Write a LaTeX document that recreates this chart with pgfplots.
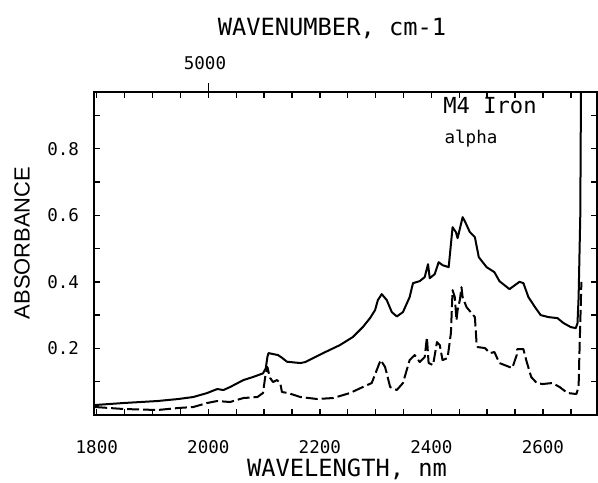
\documentclass[border=0pt]{standalone}
\usepackage{pgfplots}
\pgfplotsset{compat=1.18}
\usepackage{fontspec}
\setmainfont{DejaVu Sans Mono}
\newfontfamily\absfont{Liberation Sans}

\pgfplotstableread{
x y
1797 0.030
1848 0.036
1909 0.042
1946 0.048
1973 0.054
1998 0.066
2016 0.078
2027 0.075
2039 0.084
2063 0.105
2080 0.114
2098 0.125
2103 0.140
2106 0.175
2108 0.186
2116 0.183
2125 0.180
2132 0.172
2141 0.160
2165 0.156
2174 0.159
2206 0.186
2236 0.210
2259 0.234
2277 0.264
2290 0.291
2299 0.315
2304 0.345
2311 0.363
2320 0.345
2329 0.309
2338 0.296
2349 0.309
2361 0.354
2367 0.396
2379 0.402
2388 0.414
2394 0.453
2397 0.411
2406 0.423
2413 0.459
2420 0.450
2431 0.444
2438 0.564
2444 0.549
2447 0.531
2456 0.594
2460 0.582
2469 0.549
2478 0.534
2485 0.474
2499 0.444
2513 0.429
2522 0.402
2540 0.378
2558 0.400
2565 0.396
2574 0.354
2587 0.321
2596 0.300
2610 0.294
2626 0.291
2637 0.276
2650 0.264
2659 0.261
2662 0.276
2664 0.354
2667 0.600
2669 1.200
}\solid

\pgfplotstableread{
x y
1797 0.024
1848 0.018
1909 0.015
1946 0.021
1973 0.024
1998 0.036
2016 0.042
2039 0.039
2063 0.051
2088 0.054
2098 0.066
2102 0.114
2106 0.144
2108 0.129
2111 0.111
2116 0.099
2123 0.105
2129 0.096
2132 0.069
2143 0.066
2165 0.054
2195 0.048
2224 0.051
2254 0.066
2277 0.084
2293 0.096
2302 0.135
2309 0.165
2317 0.144
2326 0.084
2338 0.075
2349 0.096
2361 0.165
2370 0.180
2379 0.159
2388 0.174
2392 0.234
2395 0.156
2403 0.150
2410 0.219
2415 0.210
2420 0.165
2429 0.171
2435 0.246
2438 0.375
2442 0.354
2445 0.285
2447 0.315
2451 0.345
2454 0.384
2456 0.354
2463 0.324
2472 0.306
2478 0.294
2481 0.216
2483 0.204
2496 0.201
2505 0.186
2513 0.189
2522 0.156
2545 0.141
2553 0.180
2554 0.198
2565 0.198
2570 0.165
2579 0.114
2589 0.096
2599 0.093
2617 0.096
2630 0.084
2644 0.066
2660 0.063
2664 0.084
2665 0.156
2669 0.400
}\dashed

\begin{document}
\begin{tikzpicture}
\useasboundingbox (-47bp,-34bp) rectangle (252bp,207.5bp);
\begin{axis}[
  at={(0,0)}, anchor=south west,
  scale only axis, width=251.5bp, height=161.5bp,
  xmin=1795, xmax=2697, ymin=0, ymax=0.97,
  axis line style={line width=0.9bp},
  xtick={1800,2000,2200,2400,2600},
  minor xtick={1850,1900,...,2650},
  ytick={0.2,0.4,0.6,0.8},
  minor ytick={0.1,0.3,0.5,0.7,0.9},
  tick pos=both, xticklabel pos=lower, yticklabel pos=left,
  tick align=inside,
  major tick length=3bp, minor tick length=3bp,
  tick style={line width=0.7bp, black},
  /pgf/number format/assume math mode=true,
  x tick label style={font=\fontsize{8.8}{10}\selectfont, yshift=-9bp,
    /pgf/number format/1000 sep={}},
  y tick label style={font=\fontsize{8.8}{10}\selectfont, xshift=-4bp,
    /pgf/number format/fixed, /pgf/number format/fixed zerofill,
    /pgf/number format/precision=1},
  clip mode=individual,
]
\addplot[black, line width=1bp, line join=round] table {\solid};
\addplot[black, line width=1bp, line join=round, dash pattern=on 6bp off 2bp] table {\dashed};
\draw[line width=0.7bp] (axis cs:2000,0.97) -- ([yshift=4.5bp]axis cs:2000,0.97);
\end{axis}
\node[font=\fontsize{11.9}{13}\selectfont] at (119bp,193bp) {WAVENUMBER, cm-1};
\node[font=\fontsize{8.8}{10}\selectfont] at (55.5bp,176bp) {5000};
\node[font=\fontsize{11.9}{13}\selectfont] at (126.5bp,-27bp) {WAVELENGTH, nm};
\node[font=\absfont\fontsize{11}{13}\selectfont, rotate=90] at (-36bp,86bp) {ABSORBANCE};
\node[font=\fontsize{11.1}{13}\selectfont] at (198bp,154.5bp) {M4 Iron};
\node[font=\fontsize{8.8}{10}\selectfont] at (188.5bp,138bp) {alpha};
\end{tikzpicture}
\end{document}
